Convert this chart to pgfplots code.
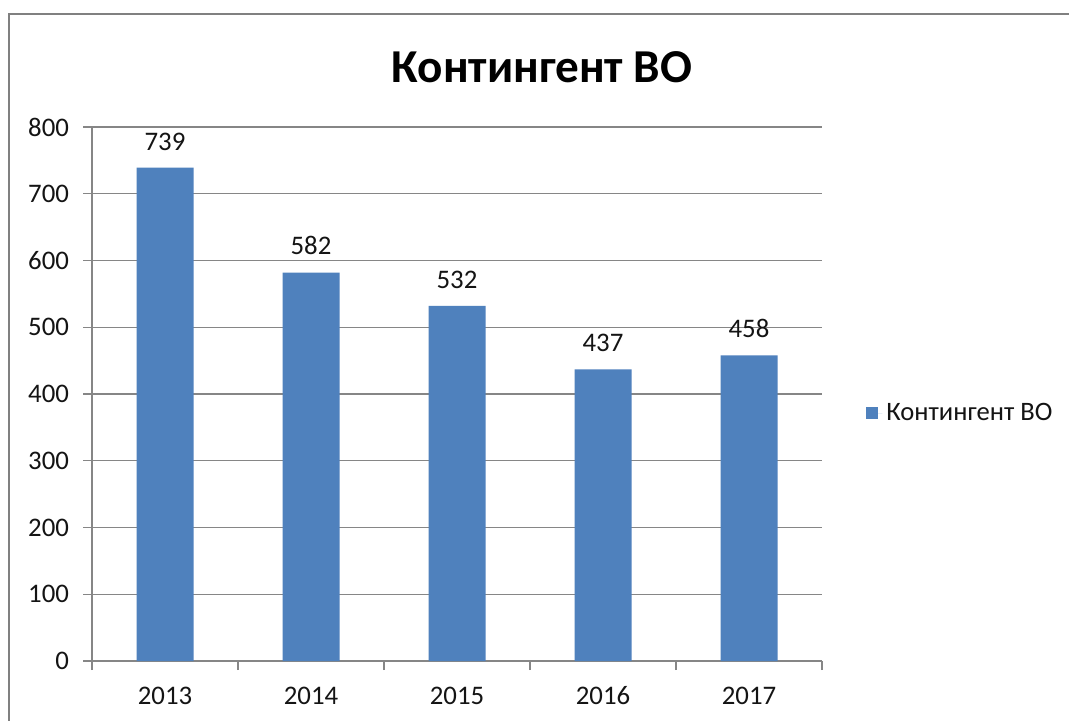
\documentclass[border=0pt]{standalone}
\usepackage{fontspec}
\setmainfont{Carlito}
\usepackage{pgfplots}
\pgfplotsset{compat=1.18}
\definecolor{barblue}{RGB}{79,129,189}
\definecolor{gridgray}{RGB}{134,134,134}
\definecolor{framegray}{RGB}{128,128,128}
\definecolor{txt}{RGB}{20,20,20}

\begin{document}
\begin{tikzpicture}
\useasboundingbox (0,0) rectangle (534.5pt,360pt);
\fill[white] (0,0) rectangle (534.5pt,360pt);
\draw[framegray, line width=1.2pt] (4.5pt,-2pt) -- (4.5pt,353pt) -- (537pt,353pt);
\begin{axis}[
  at={(46pt,29.5pt)}, anchor=south west,
  scale only axis, width=365pt, height=267pt,
  xmin=-0.5, xmax=4.5,
  ymin=0, ymax=800,
  ytick={0,100,...,800},
  xtick={0,...,4},
  xticklabels={2013,2014,2015,2016,2017},
  minor xtick={-0.5,0.5,...,4.5},
  axis lines*=left,
  axis line style={gridgray, line width=0.6pt},
  ymajorgrids,
  grid style={gridgray, line width=0.6pt},
  tick align=outside,
  major tick length=4.5pt, minor tick length=4.5pt,
  major x tick style={draw=none},
  minor x tick style={gridgray, line width=0.6pt},
  ytick style={gridgray, line width=0.6pt},
  /pgf/number format/assume math mode=true,
  tick label style={font=\fontsize{13.4}{15}\selectfont, text=txt},
  yticklabel style={xshift=-3.5pt},
  xticklabel style={yshift=-4.5pt, text height=9pt, text depth=0pt},
  ybar, bar width=28.5pt,
  nodes near coords,
  nodes near coords style={font=\fontsize{13.4}{15}\selectfont, text=txt, anchor=south, inner sep=0pt, yshift=8.5pt},
  legend style={at={(1.052,0.464)}, anchor=west, draw=none, fill=none,
    font=\fontsize{13.3}{15}\selectfont, text=txt},
]
\addplot[fill=barblue, draw=none,
  legend image code/.code={\fill[barblue] (0pt,-3pt) rectangle (6pt,3pt);
    \path (0pt,0pt) -- (8pt,0pt);}]
  coordinates {(0,739) (1,582) (2,532) (3,437) (4,458)};
\legend{Контингент ВО}
\end{axis}
\node[font=\fontsize{23.6}{28}\selectfont\bfseries, text=black] at (271pt,326.5pt) {Контингент ВО};
\end{tikzpicture}
\end{document}
